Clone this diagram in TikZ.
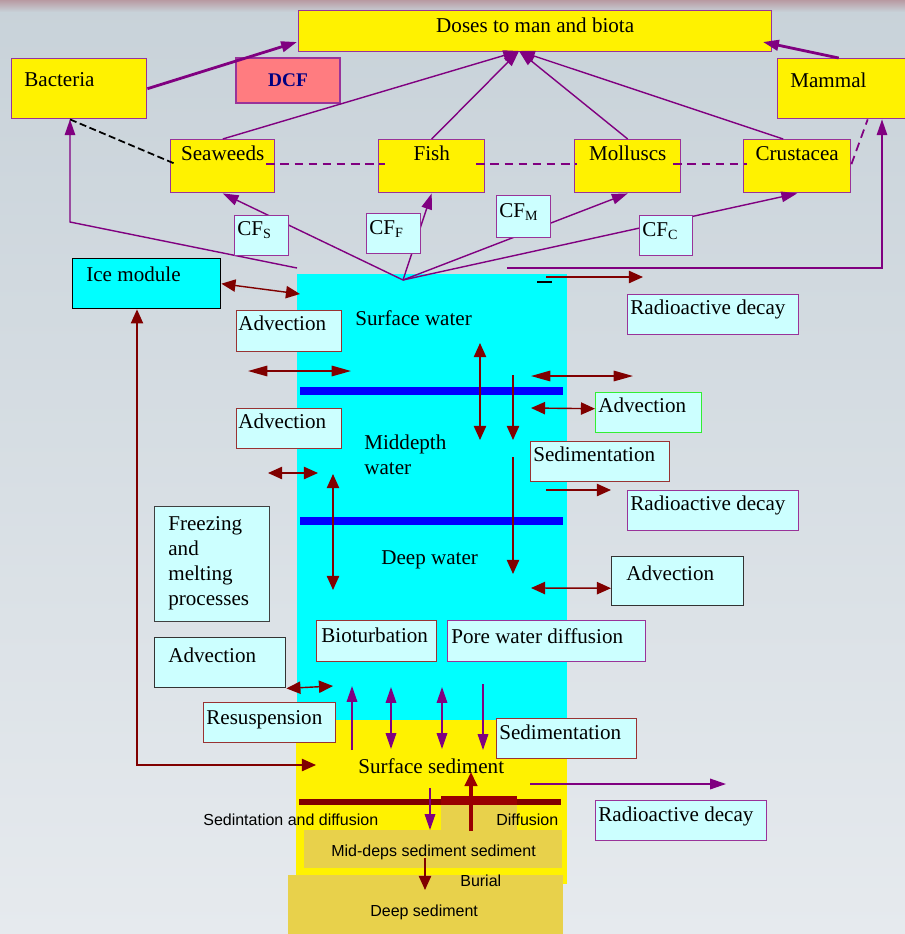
\documentclass[tikz,border=0pt]{standalone}
\usepackage{fontspec}
\setmainfont{Liberation Serif}
\setsansfont{Liberation Sans}
\usetikzlibrary{arrows.meta}

\newlength{\px}
\setlength{\px}{0.02cm}
\definecolor{purp}{HTML}{800080}
\definecolor{pline}{HTML}{993399}
\definecolor{dred}{HTML}{800000}
\definecolor{rline}{HTML}{993333}
\definecolor{sedred}{HTML}{990000}
\definecolor{wcyan}{HTML}{00FFFF}
\definecolor{lcyan}{HTML}{CCFFFF}
\definecolor{gold}{HTML}{E8D14B}
\definecolor{salmon}{HTML}{FF7C80}
\definecolor{dcfblue}{HTML}{000080}
\definecolor{greenline}{HTML}{33EE33}
\definecolor{bgtop}{HTML}{C8D2D9}
\definecolor{bgbot}{HTML}{E6EAEE}
\definecolor{topband}{HTML}{B89AA2}
\newcommand{\boxfont}{\fontsize{12}{14.2}\selectfont}
\newcommand{\sedfont}{\sffamily\fontsize{9.1}{11}\selectfont}

\tikzset{
  hd/.tip={Triangle[length=8pt,width=7pt]},
  hdl/.tip={Triangle[length=11pt,width=6pt]},
  hdp/.tip={Triangle[length=9pt,width=6pt]},
  txt/.style={font=\boxfont, inner sep=0pt, align=left},
  stxt/.style={font=\sedfont, inner sep=0pt, anchor=base west},
  ybox/.style={rectangle, draw=pline, fill=yellow, line width=0.8pt, anchor=north west, inner sep=0pt},
  pbox/.style={rectangle, draw=#1, fill=lcyan, line width=0.8pt, anchor=north west, inner sep=0pt},
  lbl/.style n args={3}{label={[txt, anchor=north west, xshift=#1\px, yshift=-#2\px]north west:{#3}}},
  clbl/.style n args={2}{label={[txt, anchor=north, yshift=-#1\px]north:{#2}}},
  parr/.style={draw=purp, line width=0.8pt, -{hdp}},
  pdbl/.style={draw=purp, line width=0.8pt, {hdp}-{hdp}},
  rarr/.style={draw=dred, line width=0.8pt, -{hd}},
  rdbl/.style={draw=dred, line width=0.8pt, {hd}-{hd}},
  rlong/.style={draw=dred, line width=0.8pt, {hdl}-{hdl}},
  pdash/.style={draw=purp, line width=1pt, dash pattern=on 5pt off 3pt},
  kdash/.style={draw=black, line width=1pt, dash pattern=on 4pt off 2pt},
}

\begin{document}
\begin{tikzpicture}[x=0.02cm, y=-0.02cm]
	\useasboundingbox (0,0) rectangle (905,934);
	\fill[top color=bgtop, bottom color=bgbot] (0,0) rectangle (905,934);
	\fill[top color=topband, bottom color=bgtop] (0,0) rectangle (905,12);
	
	% water column and sediment layers
	\fill[wcyan] (297,274) rectangle (567,720);
	\fill[yellow] (296,720) rectangle (567,884);
	\fill[gold] (441,805) rectangle (517,830);
	\fill[gold] (304,830) rectangle (562,868);
	\fill[gold] (288,875) rectangle (563,934);
	\draw[blue, line width=4pt] (300,391) -- (563,391);
	\draw[blue, line width=4pt] (300,521) -- (563,521);
	\draw[dred, line width=3.4pt] (299,802) -- (441,802);
	\draw[dred, line width=3.4pt] (517,802) -- (561,802);
	\fill[sedred] (441,796) rectangle (517,805);
	\draw[black, line width=0.8pt] (537,282) -- (552,282);
	
	\node[txt, anchor=base west] (surfw) at (355,325) {Surface water};
	\node[txt, anchor=base west] (midw) at (364,474) {Middepth\\water};
	\node[txt, anchor=base west] (deepw) at (381,564) {Deep water};
	\node[txt, anchor=base west] (surfsed) at (358,773) {Surface sediment};
	\node[stxt] (sedtxt) at (203,825) {Sedintation and diffusion};
	\node[stxt] (difftxt) at (496,825) {Diffusion};
	\node[stxt] (midsed) at (331,856) {Mid-deps sediment sediment};
	\node[stxt] (burial) at (460,886) {Burial};
	\node[stxt] (deepsed) at (370,916) {Deep sediment};
	
	% biota
	\node[ybox, minimum width=473\px, minimum height=41\px, clbl={8}{Doses to man and biota}] (doses) at (298,10) {};
	\node[ybox, minimum width=135\px, minimum height=60\px, lbl={13}{14}{Bacteria}] (bact) at (11,58) {};
	\node[rectangle, draw=pline, fill=salmon, line width=0.8pt, minimum width=104\px, minimum height=45\px, text=dcfblue, font=\fontsize{11}{13}\selectfont\bfseries] (dcf) at (288,80.5) {DCF};
	\node[ybox, minimum width=132\px, minimum height=60\px, lbl={13}{15}{Mammal}] (mammal) at (777,58) {};
	\node[ybox, minimum width=104\px, minimum height=53\px, clbl={7}{Seaweeds}] (seaweeds) at (170,139) {};
	\node[ybox, minimum width=106\px, minimum height=53\px, clbl={7}{Fish}] (fish) at (378,139) {};
	\node[ybox, minimum width=106\px, minimum height=53\px, clbl={7}{Molluscs}] (molluscs) at (574,139) {};
	\node[ybox, minimum width=107\px, minimum height=53\px, clbl={7}{Crustacea}] (crustacea) at (743,139) {};
	
	\coordinate (src) at (403,280);
	\coordinate (dhub) at (519,51);
	\coordinate (dleft) at (297,42);
	\coordinate (dright) at (763,42);
	\coordinate (bk1) at (297,268);
	\coordinate (bk2) at (70,222);
	\coordinate (mm1) at (507,268);
	\coordinate (mm2) at (882,268);
	
	\draw[parr] (src) -- (seaweeds.south);
	\draw[parr] (src) -- (fish.south);
	\draw[parr] (src) -- (molluscs.south);
	\draw[parr] (src) -- (crustacea.south);
	\draw[parr] (seaweeds.north) -- (dhub);
	\draw[parr] (fish.north) -- (dhub);
	\draw[parr] (molluscs.north) -- (dhub);
	\draw[parr] ([xshift=-14\px]crustacea.north) -- (dhub);
	\draw[parr, line width=1.6pt] (bact.east) -- (dleft);
	\draw[parr, line width=1.6pt] ([xshift=-5\px]mammal.north) -- (dright);
	\draw[parr] (bk1) -- (bk2) -- (bk2 |- bact.south);
	\draw[parr] (mm1) -- (mm2) -- (mm2 |- mammal.south);
	
	\draw[pdash] ([xshift=-9\px,yshift=2\px]seaweeds.east) -- ([xshift=7\px,yshift=2\px]fish.west);
	\draw[pdash] ([xshift=-9\px,yshift=2\px]fish.east) -- ([xshift=3\px,yshift=2\px]molluscs.west);
	\draw[pdash] ([xshift=-8\px,yshift=2\px]molluscs.east) -- ([xshift=4\px,yshift=2\px]crustacea.west);
	\draw[pdash] ([yshift=2\px]crustacea.east) -- ([xshift=24\px]mammal.south);
	\draw[kdash] (bk2 |- bact.south) -- ([xshift=6\px,yshift=2\px]seaweeds.west);
	
	\node[pbox=pline, minimum width=54\px, minimum height=40\px, lbl={3}{6}{CF\textsubscript{S}}] (cfs) at (234,215) {};
	\node[pbox=pline, minimum width=54\px, minimum height=40\px, lbl={3}{7}{CF\textsubscript{F}}] (cff) at (366,213) {};
	\node[pbox=pline, minimum width=54\px, minimum height=42\px, lbl={3}{8}{CF\textsubscript{M}}] (cfm) at (496,195) {};
	\node[pbox=pline, minimum width=53\px, minimum height=40\px, lbl={3}{7}{CF\textsubscript{C}}] (cfc) at (639,215) {};
	
	% processes
	\node[rectangle, draw=black, fill=wcyan, line width=0.8pt, anchor=north west, inner sep=0pt, minimum width=148\px, minimum height=50\px, lbl={14}{9}{Ice module}] (ice) at (72,258) {};
	\node[pbox=rline, minimum width=105\px, minimum height=41\px, lbl={2}{6}{Advection}] (adv1) at (236,310) {};
	\node[pbox=rline, minimum width=105\px, minimum height=40\px, lbl={2}{6}{Advection}] (adv2) at (236,408) {};
	\node[pbox=pline, minimum width=171\px, minimum height=40\px, lbl={3}{6}{Radioactive decay}] (rad1) at (627,294) {};
	\node[pbox=greenline, minimum width=106\px, minimum height=40\px, lbl={3}{6}{Advection}] (adv3) at (595,392) {};
	\node[pbox=rline, minimum width=139\px, minimum height=40\px, lbl={3}{6}{Sedimentation}] (sed1) at (530,441) {};
	\node[pbox=pline, minimum width=171\px, minimum height=40\px, lbl={3}{6}{Radioactive decay}] (rad2) at (627,490) {};
	\node[pbox=black!80, minimum width=132\px, minimum height=49\px, lbl={15}{10}{Advection}] (adv4) at (611,556) {};
	\node[pbox=black!75, minimum width=115\px, minimum height=115\px, lbl={14}{10}{Freezing\\and\\melting\\processes}] (freeze) at (154,506) {};
	\node[pbox=rline, minimum width=120\px, minimum height=41\px, lbl={5}{8}{Bioturbation}] (bio) at (316,620) {};
	\node[pbox=pline, minimum width=198\px, minimum height=41\px, lbl={4}{8}{Pore water diffusion}] (pore) at (447,620) {};
	\node[pbox=black!80, minimum width=131\px, minimum height=50\px, lbl={14}{11}{Advection}] (adv5) at (154,637) {};
	\node[pbox=rline, minimum width=132\px, minimum height=40\px, lbl={3}{8}{Resuspension}] (resus) at (203,702) {};
	\node[pbox=rline, minimum width=140\px, minimum height=40\px, lbl={3}{7}{Sedimentation}] (sed2) at (496,718) {};
	\node[pbox=pline, minimum width=171\px, minimum height=40\px, lbl={3}{7}{Radioactive decay}] (rad3) at (595,800) {};
	
	% free ends of the exchange arrows
	\coordinate (icew) at (300,294);
	\coordinate (icecorner) at (137,765);
	\coordinate (icesed) at (316,765);
	\coordinate (advw1) at (248,371);
	\coordinate (adve1) at (351,371);
	\coordinate (advw2) at (531,376);
	\coordinate (adve2) at (633,376);
	\coordinate (advw3) at (531,408);
	\coordinate (advw4) at (268,473);
	\coordinate (adve4) at (318,473);
	\coordinate (advw5) at (531,588);
	\coordinate (adve6) at (333,686);
	\coordinate (decw1) at (546,277);
	\coordinate (dece1) at (643,277);
	\coordinate (decw2) at (546,490);
	\coordinate (dece2) at (611,490);
	\coordinate (mixt) at (480,343);
	\coordinate (mixb) at (480,440);
	\coordinate (sedt1) at (513,375);
	\coordinate (sedb1) at (513,440);
	\coordinate (sedt2) at (513,457);
	\coordinate (sedb2) at (513,574);
	\coordinate (deept) at (333,474);
	\coordinate (deepb) at (333,590);
	\coordinate (burt) at (425,858);
	\coordinate (burb) at (425,890);
	\coordinate (difb) at (471,831);
	\coordinate (dift) at (471,772);
	\coordinate (rsb) at (352,750);
	\coordinate (rst) at (352,686);
	\coordinate (bt1) at (391,687);
	\coordinate (bb1) at (391,749);
	\coordinate (bt2) at (442,687);
	\coordinate (bb2) at (442,749);
	\coordinate (sdt) at (483,684);
	\coordinate (sdb) at (483,750);
	\coordinate (mdt) at (430,788);
	\coordinate (mdb) at (430,830);
	\coordinate (decw3) at (530,784);
	\coordinate (dece3) at (726,784);
	
	\draw[rdbl] (ice.east) -- (icew);
	\draw[rdbl] (icecorner |- ice.south) -- (icecorner) -- (icesed);
	\draw[rlong] (advw1) -- (adve1);
	\draw[rlong] (advw2) -- (adve2);
	\draw[rdbl] (advw3) -- ([yshift=4\px]adv3.west);
	\draw[rdbl] (advw4) -- (adve4);
	\draw[rdbl] (advw5) -- ([yshift=-7\px]adv4.west);
	\draw[rdbl] (adv5.south east) -- (adve6);
	\draw[rarr] (decw1) -- (dece1);
	\draw[rarr] (decw2) -- (dece2);
	\draw[rdbl] (mixt) -- (mixb);
	\draw[rarr] (sedt1) -- (sedb1);
	\draw[rarr] (sedt2) -- (sedb2);
	\draw[rdbl] (deept) -- (deepb);
	\draw[rarr] (burt) -- (burb);
	\draw[draw=sedred, line width=2pt, -{hd}] (difb) -- (dift);
	
	\draw[parr] (rsb) -- (rst);
	\draw[pdbl] (bt1) -- (bb1);
	\draw[pdbl] (bt2) -- (bb2);
	\draw[parr] (sdt) -- (sdb);
	\draw[parr] (mdt) -- (mdb);
	\draw[parr] (decw3) -- (dece3);
\end{tikzpicture}
\end{document}
